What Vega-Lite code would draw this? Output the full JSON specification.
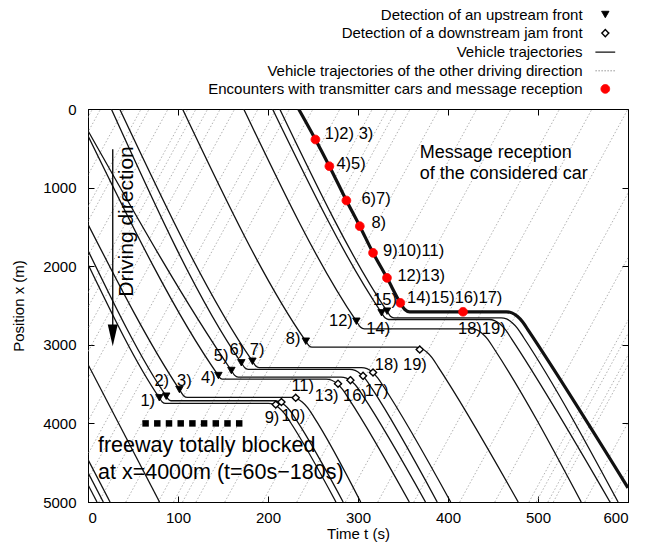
{
"$schema":"https://vega.github.io/schema/vega-lite/v6.json",
"width":540,"height":393,"autosize":"none",
"padding":{"left":88,"top":109,"right":26,"bottom":47},
"background":"white",
"config":{
 "font":"Liberation Sans",
 "view":{"stroke":"#000","strokeWidth":1},
 "axis":{"grid":false,"domainColor":"#000","tickColor":"#000","labelColor":"#000","titleColor":"#000","labelFont":"Liberation Sans","titleFont":"Liberation Sans","labelFontSize":15,"titleFontSize":15,"titleFontWeight":"normal","tickSize":-6},
 "legend":{"orient":"none","legendX":509.3,"legendY":-102,"padding":0,"offset":0,"rowPadding":2.6,"labelAlign":"right","labelOffset":-30.7,"labelFontSize":15,"labelFont":"Liberation Sans","labelColor":"#000","labelLimit":600,"symbolOffset":0}
},
"datasets":{
"other":[
{"id":"o1","t":-233,"x":5000},{"id":"o1","t":5,"x":0},
{"id":"o2","t":-224,"x":5000},{"id":"o2","t":14,"x":0},
{"id":"o3","t":-198,"x":5000},{"id":"o3","t":40,"x":0},
{"id":"o4","t":-179,"x":5000},{"id":"o4","t":59,"x":0},
{"id":"o5","t":-170,"x":5000},{"id":"o5","t":68,"x":0},
{"id":"o6","t":-149,"x":5000},{"id":"o6","t":89,"x":0},
{"id":"o7","t":-127,"x":5000},{"id":"o7","t":111,"x":0},
{"id":"o8","t":-118,"x":5000},{"id":"o8","t":120,"x":0},
{"id":"o9","t":-105,"x":5000},{"id":"o9","t":133,"x":0},
{"id":"o10","t":-91,"x":5000},{"id":"o10","t":147,"x":0},
{"id":"o11","t":-75,"x":5000},{"id":"o11","t":163,"x":0},
{"id":"o12","t":-49,"x":5000},{"id":"o12","t":189,"x":0},
{"id":"o13","t":-29,"x":5000},{"id":"o13","t":209,"x":0},
{"id":"o14","t":-14,"x":5000},{"id":"o14","t":224,"x":0},
{"id":"o15","t":12,"x":5000},{"id":"o15","t":250,"x":0},
{"id":"o16","t":42,"x":5000},{"id":"o16","t":280,"x":0},
{"id":"o17","t":78,"x":5000},{"id":"o17","t":316,"x":0},
{"id":"o18","t":95,"x":5000},{"id":"o18","t":333,"x":0},
{"id":"o19","t":105,"x":5000},{"id":"o19","t":343,"x":0},
{"id":"o20","t":120,"x":5000},{"id":"o20","t":358,"x":0},
{"id":"o21","t":152,"x":5000},{"id":"o21","t":390,"x":0},
{"id":"o22","t":194,"x":5000},{"id":"o22","t":432,"x":0},
{"id":"o23","t":232,"x":5000},{"id":"o23","t":470,"x":0},
{"id":"o24","t":286,"x":5000},{"id":"o24","t":524,"x":0},
{"id":"o25","t":322,"x":5000},{"id":"o25","t":560,"x":0},
{"id":"o26","t":362,"x":5000},{"id":"o26","t":600,"x":0},
{"id":"o27","t":413,"x":5000},{"id":"o27","t":651,"x":0},
{"id":"o28","t":452,"x":5000},{"id":"o28","t":690,"x":0},
{"id":"o29","t":490,"x":5000},{"id":"o29","t":728,"x":0},
{"id":"o30","t":498,"x":5000},{"id":"o30","t":736,"x":0},
{"id":"o31","t":511,"x":5000},{"id":"o31","t":749,"x":0},
{"id":"o32","t":517,"x":5000},{"id":"o32","t":755,"x":0},
{"id":"o33","t":552,"x":5000},{"id":"o33","t":790,"x":0},
{"id":"o34","t":580,"x":5000},{"id":"o34","t":818,"x":0}
],
"traj":[
{"id":"F1","t":0,"x":4780},{"id":"F1","t":10,"x":5000},
{"id":"F2","t":0,"x":4625},{"id":"F2","t":17,"x":5000},
{"id":"F3","t":0,"x":4460},{"id":"F3","t":24.5,"x":5000},
{"id":"F4","t":0,"x":3250},{"id":"F4","t":79.5,"x":5000},
{"id":"A1","t":0,"x":1975},{"id":"A1","t":79.3,"x":3674},{"id":"A1","t":82.5,"x":3727},{"id":"A1","t":86,"x":3745},{"id":"A1","t":200.4,"x":3745},{"id":"A1","t":206.4,"x":3759},{"id":"A1","t":212.4,"x":3803},{"id":"A1","t":218.4,"x":3875},{"id":"A1","t":225.4,"x":3995},{"id":"A1","t":275.5,"x":5000},
{"id":"A2","t":0,"x":1800},{"id":"A2","t":86.9,"x":3654},{"id":"A2","t":89.5,"x":3697},{"id":"A2","t":92.2,"x":3712},{"id":"A2","t":206.8,"x":3712},{"id":"A2","t":212.8,"x":3726},{"id":"A2","t":218.8,"x":3770},{"id":"A2","t":224.8,"x":3842},{"id":"A2","t":231.8,"x":3962},{"id":"A2","t":283.5,"x":5000},
{"id":"A3","t":0,"x":1466},{"id":"A3","t":101.6,"x":3569},{"id":"A3","t":106,"x":3644},{"id":"A3","t":110.5,"x":3670},{"id":"A3","t":226,"x":3670},{"id":"A3","t":232,"x":3684},{"id":"A3","t":238,"x":3728},{"id":"A3","t":244,"x":3800},{"id":"A3","t":251,"x":3920},{"id":"A3","t":303,"x":5000},
{"id":"B4","t":0,"x":340},{"id":"B4","t":144.9,"x":3391},{"id":"B4","t":147,"x":3425},{"id":"B4","t":149.1,"x":3437},{"id":"B4","t":264.8,"x":3437},{"id":"B4","t":270.8,"x":3451},{"id":"B4","t":276.8,"x":3495},{"id":"B4","t":282.8,"x":3567},{"id":"B4","t":289.8,"x":3687},{"id":"B4","t":357,"x":5000},
{"id":"B5","t":0,"x":277},{"id":"B5","t":159.3,"x":3327},{"id":"B5","t":163,"x":3389},{"id":"B5","t":166.8,"x":3410},{"id":"B5","t":281.1,"x":3410},{"id":"B5","t":287.1,"x":3424},{"id":"B5","t":293.1,"x":3468},{"id":"B5","t":299.1,"x":3540},{"id":"B5","t":306.1,"x":3660},{"id":"B5","t":375,"x":5000},
{"id":"B6","t":25.9,"x":0},{"id":"B6","t":170.4,"x":3229},{"id":"B6","t":174.2,"x":3291},{"id":"B6","t":177.9,"x":3312},{"id":"B6","t":290.8,"x":3312},{"id":"B6","t":296.8,"x":3326},{"id":"B6","t":302.8,"x":3370},{"id":"B6","t":308.8,"x":3442},{"id":"B6","t":315.8,"x":3562},{"id":"B6","t":388,"x":5000},
{"id":"B7","t":35.2,"x":0},{"id":"B7","t":182.7,"x":3209},{"id":"B7","t":186.4,"x":3270},{"id":"B7","t":190.1,"x":3290},{"id":"B7","t":303.9,"x":3290},{"id":"B7","t":309.9,"x":3304},{"id":"B7","t":315.9,"x":3348},{"id":"B7","t":321.9,"x":3420},{"id":"B7","t":328.9,"x":3540},{"id":"B7","t":403,"x":5000},
{"id":"C8","t":105,"x":0},{"id":"C8","t":242,"x":2954},{"id":"C8","t":245.5,"x":3011},{"id":"C8","t":248.9,"x":3030},{"id":"C8","t":364,"x":3030},{"id":"C8","t":370,"x":3044},{"id":"C8","t":376,"x":3088},{"id":"C8","t":382,"x":3160},{"id":"C8","t":389,"x":3280},{"id":"C8","t":478,"x":5000},
{"id":"D12","t":173,"x":0},{"id":"D12","t":298.2,"x":2700},{"id":"D12","t":302.6,"x":2773},{"id":"D12","t":307,"x":2797},{"id":"D12","t":426,"x":2797},{"id":"D12","t":432,"x":2811},{"id":"D12","t":438,"x":2855},{"id":"D12","t":444,"x":2927},{"id":"D12","t":451,"x":3047},{"id":"D12","t":548,"x":5000},
{"id":"D14","t":205,"x":0},{"id":"D14","t":326.2,"x":2593},{"id":"D14","t":330,"x":2657},{"id":"D14","t":333.9,"x":2678},{"id":"D14","t":445.8,"x":2678},{"id":"D14","t":451.8,"x":2692},{"id":"D14","t":457.8,"x":2736},{"id":"D14","t":463.8,"x":2808},{"id":"D14","t":470.8,"x":2928},{"id":"D14","t":580,"x":5000},
{"id":"D15","t":213,"x":0},{"id":"D15","t":332.2,"x":2572},{"id":"D15","t":336,"x":2636},{"id":"D15","t":339.9,"x":2657},{"id":"D15","t":459,"x":2657},{"id":"D15","t":465,"x":2671},{"id":"D15","t":471,"x":2715},{"id":"D15","t":477,"x":2787},{"id":"D15","t":484,"x":2907},{"id":"D15","t":589,"x":5000}
],
"car":[
{"t":234,"x":0},{"t":252.7,"x":388},{"t":268.2,"x":728},{"t":287.1,"x":1164},{"t":302,"x":1491},{"t":316.7,"x":1830},{"t":332.2,"x":2148},{"t":347,"x":2466},{"t":352,"x":2551},{"t":357.4,"x":2580},{"t":416.7,"x":2580},{"t":465,"x":2580},{"t":471,"x":2594},{"t":477,"x":2638},{"t":483,"x":2710},{"t":490,"x":2830},{"t":600,"x":4820}
],
"events":[
{"t":79.3,"x":3674,"kind":"Detection of an upstream front"},
{"t":86.9,"x":3654,"kind":"Detection of an upstream front"},
{"t":101.6,"x":3569,"kind":"Detection of an upstream front"},
{"t":144.9,"x":3391,"kind":"Detection of an upstream front"},
{"t":159.3,"x":3327,"kind":"Detection of an upstream front"},
{"t":170.4,"x":3229,"kind":"Detection of an upstream front"},
{"t":182.7,"x":3209,"kind":"Detection of an upstream front"},
{"t":242,"x":2954,"kind":"Detection of an upstream front"},
{"t":298.2,"x":2700,"kind":"Detection of an upstream front"},
{"t":326.2,"x":2593,"kind":"Detection of an upstream front"},
{"t":332.2,"x":2572,"kind":"Detection of an upstream front"},
{"t":208.6,"x":3760,"kind":"Detection of a downstream jam front"},
{"t":214.9,"x":3728,"kind":"Detection of a downstream jam front"},
{"t":230.8,"x":3674,"kind":"Detection of a downstream jam front"},
{"t":277.8,"x":3495,"kind":"Detection of a downstream jam front"},
{"t":291.6,"x":3450,"kind":"Detection of a downstream jam front"},
{"t":305.6,"x":3395,"kind":"Detection of a downstream jam front"},
{"t":316.7,"x":3352,"kind":"Detection of a downstream jam front"},
{"t":368.6,"x":3060,"kind":"Detection of a downstream jam front"},
{"t":252.7,"x":388,"kind":"Encounters with transmitter cars and message reception"},
{"t":268.2,"x":728,"kind":"Encounters with transmitter cars and message reception"},
{"t":287.1,"x":1164,"kind":"Encounters with transmitter cars and message reception"},
{"t":302,"x":1491,"kind":"Encounters with transmitter cars and message reception"},
{"t":316.7,"x":1830,"kind":"Encounters with transmitter cars and message reception"},
{"t":332.2,"x":2148,"kind":"Encounters with transmitter cars and message reception"},
{"t":347,"x":2466,"kind":"Encounters with transmitter cars and message reception"},
{"t":416.7,"x":2580,"kind":"Encounters with transmitter cars and message reception"}
],
"block":[{"t":64,"x":4000},{"t":77,"x":4000},{"t":90,"x":4000},{"t":103,"x":4000},{"t":116,"x":4000},{"t":129,"x":4000},{"t":142,"x":4000},{"t":155,"x":4000},{"t":168,"x":4000}],
"labels":[
{"t":58.2,"x":3718,"text":"1)"},
{"t":73.8,"x":3463,"text":"2)"},
{"t":98.9,"x":3463,"text":"3)"},
{"t":125.6,"x":3420,"text":"4)"},
{"t":139.7,"x":3145,"text":"5)"},
{"t":157.1,"x":3060,"text":"6)"},
{"t":179.7,"x":3060,"text":"7)"},
{"t":219.7,"x":2924,"text":"8)"},
{"t":196.3,"x":3929,"text":"9)"},
{"t":214.9,"x":3908,"text":"10)"},
{"t":226,"x":3527,"text":"11)"},
{"t":267.8,"x":2700,"text":"12)"},
{"t":251.9,"x":3654,"text":"13)"},
{"t":309.3,"x":2805,"text":"14)"},
{"t":316.7,"x":2424,"text":"15)"},
{"t":283.3,"x":3654,"text":"16)"},
{"t":307.4,"x":3590,"text":"17)"},
{"t":318.6,"x":3251,"text":"18)"},
{"t":350,"x":3251,"text":"19)"},
{"t":411.1,"x":2805,"text":"18)19)"},
{"t":263,"x":324,"text":"1)2) 3)"},
{"t":276,"x":706,"text":"4)5)"},
{"t":303.8,"x":1151,"text":"6)7)"},
{"t":314.9,"x":1448,"text":"8)"},
{"t":327.8,"x":1809,"text":"9)10)11)"},
{"t":343.8,"x":2127,"text":"12)13)"},
{"t":354.4,"x":2402,"text":"14)15)16)17)"}
],
"notes":[{"t":368.6,"x":557,"text":"Message reception"},{"t":368.6,"x":833,"text":"of the considered car"}],
"bignotes":[{"t":11.1,"x":4290,"text":"freeway totally blocked"},{"t":11.1,"x":4628,"text":"at x=4000m (t=60s−180s)"}],
"arrow":[{"t":27.5,"x":511,"x2":2770}],
"arrowhead":[{"t":27.5,"x":2880}],
"direction":[{"t":43.6,"x":1431,"text":"Driving direction"}]
},
"layer":[
{"data":{"name":"other"},
 "mark":{"type":"line","clip":true,"stroke":"#a8a8a8","strokeWidth":0.9,"strokeDash":[1.5,2]},
 "encoding":{
  "x":{"field":"t","type":"quantitative","scale":{"domain":[0,600],"nice":false,"zero":false},"axis":{"title":"Time t (s)","values":[0,100,200,300,400,500,600],"labelPadding":14,"titlePadding":1}},
  "y":{"field":"x","type":"quantitative","scale":{"domain":[0,5000],"reverse":true,"nice":false,"zero":false},"axis":{"title":"Position x (m)","format":"d","values":[0,1000,2000,3000,4000,5000],"labelPadding":18,"titlePadding":16}},
  "detail":{"field":"id","type":"nominal"}}},
{"data":{"name":"traj"},
 "mark":{"type":"line","interpolate":"monotone","stroke":"#111","strokeWidth":1.3,"clip":true},
 "encoding":{
  "x":{"field":"t","type":"quantitative","scale":{"domain":[0,600],"nice":false,"zero":false},"axis":{"orient":"top","labels":false,"title":null,"domain":false,"values":[0,100,200,300,400,500,600]}},
  "y":{"field":"x","type":"quantitative","scale":{"domain":[0,5000],"reverse":true,"nice":false,"zero":false},"axis":{"orient":"right","labels":false,"title":null,"domain":false,"values":[0,1000,2000,3000,4000,5000]}},
  "detail":{"field":"id","type":"nominal"}}},
{"data":{"name":"car"},
 "mark":{"type":"line","interpolate":"monotone","stroke":"#111","strokeWidth":3.2,"clip":true},
 "encoding":{"x":{"field":"t","type":"quantitative","axis":null},"y":{"field":"x","type":"quantitative","axis":null}}},
{"data":{"name":"block"},
 "mark":{"type":"point","shape":"square","filled":true,"color":"#000","size":42,"opacity":1},
 "encoding":{"x":{"field":"t","type":"quantitative","axis":null},"y":{"field":"x","type":"quantitative","axis":null}}},
{"data":{"name":"arrow"},
 "mark":{"type":"rule","stroke":"#000","strokeWidth":1.3},
 "encoding":{"x":{"field":"t","type":"quantitative","axis":null},"y":{"field":"x","type":"quantitative","axis":null},"y2":{"field":"x2"}}},
{"data":{"name":"arrowhead"},
 "mark":{"type":"point","shape":"M-0.46,-1L0.46,-1L0,1Z","filled":true,"color":"#000","size":471,"opacity":1},
 "encoding":{"x":{"field":"t","type":"quantitative","axis":null},"y":{"field":"x","type":"quantitative","axis":null}}},
{"data":{"name":"events"},
 "mark":{"type":"point","opacity":1},
 "encoding":{
  "x":{"field":"t","type":"quantitative","axis":null},
  "y":{"field":"x","type":"quantitative","axis":null},
  "shape":{"field":"kind","type":"nominal","scale":{"domain":["Detection of an upstream front","Detection of a downstream jam front","Vehicle trajectories","Vehicle trajectories of the other driving direction","Encounters with transmitter cars and message reception"],"range":["triangle-down","diamond","M-1.4,0L1.4,0","M-1.4,0L1.4,0","circle"]},"legend":{"title":null}},
  "fill":{"field":"kind","type":"nominal","scale":{"domain":["Detection of an upstream front","Detection of a downstream jam front","Vehicle trajectories","Vehicle trajectories of the other driving direction","Encounters with transmitter cars and message reception"],"range":["#000000","#ffffff","transparent","transparent","#ff0000"]},"legend":{"title":null}},
  "stroke":{"field":"kind","type":"nominal","scale":{"domain":["Detection of an upstream front","Detection of a downstream jam front","Vehicle trajectories","Vehicle trajectories of the other driving direction","Encounters with transmitter cars and message reception"],"range":["#000000","#000000","#111111","#8a8a8a","#ff0000"]},"legend":{"title":null}},
  "size":{"field":"kind","type":"nominal","scale":{"type":"ordinal","domain":["Detection of an upstream front","Detection of a downstream jam front","Vehicle trajectories","Vehicle trajectories of the other driving direction","Encounters with transmitter cars and message reception"],"range":[55,50,200,200,75]},"legend":{"title":null}},
  "strokeDash":{"field":"kind","type":"nominal","scale":{"domain":["Detection of an upstream front","Detection of a downstream jam front","Vehicle trajectories","Vehicle trajectories of the other driving direction","Encounters with transmitter cars and message reception"],"range":[[1,0],[1,0],[1,0],[1.5,1.5],[1,0]]},"legend":{"title":null}},
  "strokeWidth":{"field":"kind","type":"nominal","scale":{"type":"ordinal","domain":["Detection of an upstream front","Detection of a downstream jam front","Vehicle trajectories","Vehicle trajectories of the other driving direction","Encounters with transmitter cars and message reception"],"range":[1,1.4,1.3,0.9,1]},"legend":{"title":null}}
 }},
{"data":{"name":"labels"},
 "mark":{"type":"text","align":"left","baseline":"middle","fontSize":16.5,"font":"Liberation Sans","color":"#000"},
 "encoding":{"x":{"field":"t","type":"quantitative","axis":null},"y":{"field":"x","type":"quantitative","axis":null},"text":{"field":"text"}}},
{"data":{"name":"notes"},
 "mark":{"type":"text","align":"left","baseline":"middle","fontSize":18,"font":"Liberation Sans","color":"#000"},
 "encoding":{"x":{"field":"t","type":"quantitative","axis":null},"y":{"field":"x","type":"quantitative","axis":null},"text":{"field":"text"}}},
{"data":{"name":"bignotes"},
 "mark":{"type":"text","align":"left","baseline":"middle","fontSize":21.5,"font":"Liberation Sans","color":"#000"},
 "encoding":{"x":{"field":"t","type":"quantitative","axis":null},"y":{"field":"x","type":"quantitative","axis":null},"text":{"field":"text"}}},
{"data":{"name":"direction"},
 "mark":{"type":"text","align":"center","baseline":"middle","angle":270,"fontSize":21,"font":"Liberation Sans","color":"#000"},
 "encoding":{"x":{"field":"t","type":"quantitative","axis":null},"y":{"field":"x","type":"quantitative","axis":null},"text":{"field":"text"}}}
],
"resolve":{"axis":{"x":"independent","y":"independent"}}
}
